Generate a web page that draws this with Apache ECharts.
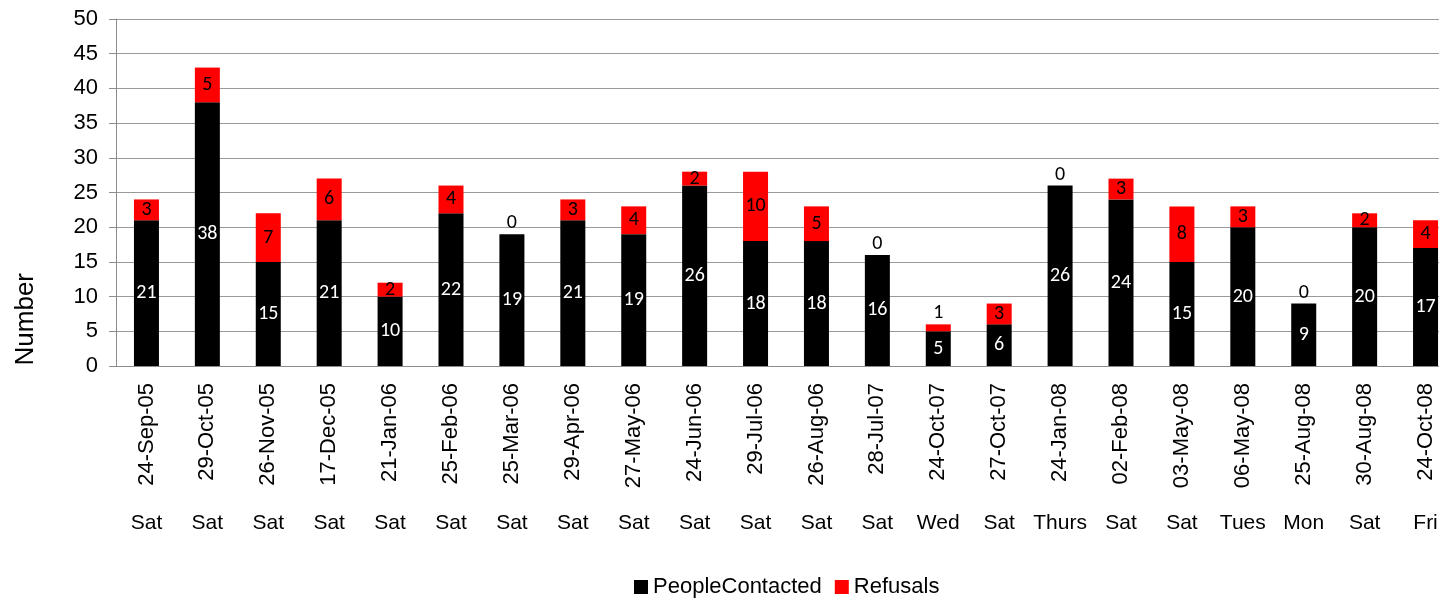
<!DOCTYPE html>
<html>
<head>
<meta charset="utf-8">
<script src="https://cdn.jsdelivr.net/npm/echarts@6/dist/echarts.min.js"></script>
<style>
  html, body { margin: 0; padding: 0; background: #fff; }
  #chart { width: 1439px; height: 598px; }
</style>
</head>
<body>
<div id="chart"></div>
<script>
const dates = ['24-Sep-05', '29-Oct-05', '26-Nov-05', '17-Dec-05', '21-Jan-06', '25-Feb-06', '25-Mar-06',
  '29-Apr-06', '27-May-06', '24-Jun-06', '29-Jul-06', '26-Aug-06', '28-Jul-07', '24-Oct-07', '27-Oct-07',
  '24-Jan-08', '02-Feb-08', '03-May-08', '06-May-08', '25-Aug-08', '30-Aug-08', '24-Oct-08'];
const days = ['Sat', 'Sat', 'Sat', 'Sat', 'Sat', 'Sat', 'Sat', 'Sat', 'Sat', 'Sat', 'Sat', 'Sat', 'Sat',
  'Wed', 'Sat', 'Thurs', 'Sat', 'Sat', 'Tues', 'Mon', 'Sat', 'Fri'];
const peopleContacted = [21, 38, 15, 21, 10, 22, 19, 21, 19, 26, 18, 18, 16, 5, 6, 26, 24, 15, 20, 9, 20, 17];
const refusals = [3, 5, 7, 6, 2, 4, 0, 3, 4, 2, 10, 5, 0, 1, 3, 0, 3, 8, 3, 0, 2, 4];

const labelFont = 'Carlito, Calibri, "Open Sans", "DejaVu Sans", sans-serif';
const axisFont = '"Liberation Sans", Arial, sans-serif';

const chart = echarts.init(document.getElementById('chart'), null, { renderer: 'canvas' });

chart.setOption({
  backgroundColor: '#fff',
  animation: false,
  // plot runs past the right edge, the last bar is cut off like in the source
  grid: { left: 116, top: 19, bottom: 232, width: 1340, containLabel: false, outerBoundsMode: 'none' },
  legend: {
    data: ['PeopleContacted', 'Refusals'],
    left: 629, top: 571,
    itemWidth: 14, itemHeight: 14, itemGap: 13,
    icon: 'rect',
    textStyle: { color: '#000', fontSize: 22, fontFamily: axisFont }
  },
  graphic: [{
    type: 'text', left: 13, top: 273, rotation: Math.PI / 2,
    style: { text: 'Number', fill: '#000', font: '26px ' + axisFont }
  }],
  xAxis: [{
    type: 'category', data: dates,
    axisLine: { lineStyle: { color: '#8c8c8c' } },
    axisTick: { show: false },
    axisLabel: { rotate: 90, margin: 17, color: '#000', fontSize: 22, fontFamily: axisFont, interval: 0 }
  }, {
    type: 'category', data: days, position: 'bottom', offset: 139,
    axisLine: { show: false }, axisTick: { show: false },
    axisLabel: { color: '#000', fontSize: 21, fontFamily: axisFont, interval: 0, margin: 8 }
  }],
  yAxis: {
    type: 'value', min: 0, max: 50, interval: 5,
    axisLine: { show: true, lineStyle: { color: '#8c8c8c' } },
    axisTick: { show: true, length: 7, lineStyle: { color: '#8c8c8c' } },
    splitLine: { lineStyle: { color: '#9a9a9a', width: 1 } },
    axisLabel: { color: '#000', fontSize: 22, fontFamily: axisFont, margin: 18 }
  },
  series: [{
    name: 'PeopleContacted', type: 'bar', stack: 'total', barWidth: 25,
    data: peopleContacted,
    itemStyle: { color: '#000' },
    label: { show: true, position: 'inside', color: '#fff', fontSize: 20, fontFamily: labelFont }
  }, {
    name: 'Refusals', type: 'bar', stack: 'total', barWidth: 25,
    data: refusals.map(v => ({
      value: v,
      label: { position: v <= 1 ? 'top' : 'inside', distance: 1 }
    })),
    itemStyle: { color: '#ff0000' },
    label: { show: true, color: '#000', fontSize: 20, fontFamily: labelFont }
  }]
});
</script>
</body>
</html>
